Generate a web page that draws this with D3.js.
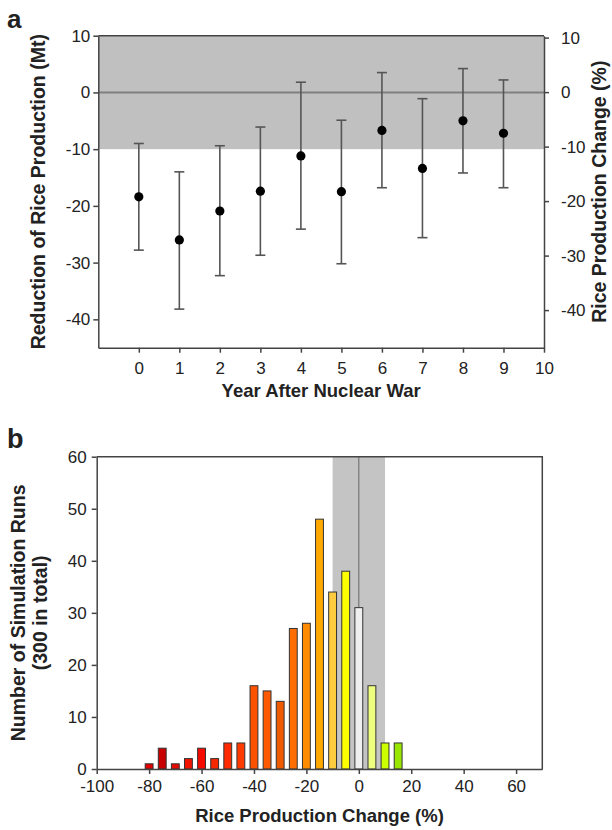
<!DOCTYPE html>
<html>
<head>
<meta charset="utf-8">
<script src="https://cdn.jsdelivr.net/npm/d3@7"></script>
<style>
  body { margin: 0; background: #fff; }
  svg { font-family: "Liberation Sans", Arial, sans-serif; }
  .axis path, .axis line { stroke: #444; stroke-width: 1.5; }
  .axis text { font-size: 17px; fill: #222; }
  .title { font-weight: bold; fill: #222; }
</style>
</head>
<body>
<svg id="chart"></svg>
<script>
// ---- panel a: yearly reduction of rice production ----
const years = [0, 1, 2, 3, 4, 5, 6, 7, 8, 9];
const meanMt = [-18.4, -26.0, -20.9, -17.4, -11.2, -17.5, -6.7, -13.4, -5.0, -7.2];
const upperMt = [-9.0, -14.0, -9.4, -6.1, 1.8, -4.9, 3.5, -1.1, 4.2, 2.2];
const lowerMt = [-27.8, -38.2, -32.3, -28.7, -24.1, -30.2, -16.8, -25.6, -14.2, -16.8];
const yearTicks = [0, 1, 2, 3, 4, 5, 6, 7, 8, 9, 10];
const mtTicks = [10, 0, -10, -20, -30, -40];
const pctTicks = [10, 0, -10, -20, -30, -40];

// ---- panel b: histogram of simulation runs ----
const binCenters = [-80, -75, -70, -65, -60, -55, -50, -45, -40, -35, -30, -25, -20, -15, -10, -5, 0, 5, 10, 15];
const runCounts = [1, 4, 1, 2, 4, 2, 5, 5, 16, 15, 13, 27, 28, 48, 34, 38, 31, 16, 5, 5];
const binColors = ['#e00000', '#c80000', '#e80a00', '#f01400', '#f50a00', '#f52800', '#ff2a00', '#ff3a00',
                   '#ff5200', '#ff5a00', '#f05a00', '#ff6e00', '#ff8c00', '#ffa800', '#ffcc40', '#ffff00',
                   '#f0f0f0', '#eeff80', '#ccff00', '#99e600'];
const changeTicks = [-100, -80, -60, -40, -20, 0, 20, 40, 60];
const countTicks = [0, 10, 20, 30, 40, 50, 60];

const svg = d3.select('#chart')
    .attr('width', 612)
    .attr('height', 830);

const fmt = d => String(d);

// ================= panel a =================
const a = {left: 98.3, right: 544, top: 35.7, bottom: 347.7};

const xA = d3.scaleLinear().domain([-1, 10]).range([a.left, a.right]);
const yA = d3.scaleLinear().domain([-45, 10]).range([a.bottom, a.top]);
// percent axis on the right has its own scale
const yA2 = d3.scaleLinear().domain([-46.9, 10.35]).range([a.bottom, a.top]);

const gA = svg.append('g');

// shaded +-10 band
gA.append('rect')
    .attr('x', xA(-1))
    .attr('y', yA(10))
    .attr('width', xA(10) - xA(-1))
    .attr('height', yA(-10) - yA(10))
    .attr('fill', '#c0c0c0');

// zero line
gA.append('line')
    .attr('x1', xA(-1)).attr('x2', xA(10))
    .attr('y1', yA(0)).attr('y2', yA(0))
    .attr('stroke', '#808080')
    .attr('stroke-width', 2);

const pts = years.map((yr, i) => ({yr, mean: meanMt[i], hi: upperMt[i], lo: lowerMt[i]}));

const bars = gA.selectAll('.err')
    .data(pts)
  .join('g')
    .attr('class', 'err')
    .attr('stroke', '#555')
    .attr('stroke-width', 1.6);

bars.append('line')
    .attr('x1', d => xA(d.yr)).attr('x2', d => xA(d.yr))
    .attr('y1', d => yA(d.hi)).attr('y2', d => yA(d.lo));
bars.append('line')
    .attr('x1', d => xA(d.yr) - 5).attr('x2', d => xA(d.yr) + 5)
    .attr('y1', d => yA(d.hi)).attr('y2', d => yA(d.hi));
bars.append('line')
    .attr('x1', d => xA(d.yr) - 5).attr('x2', d => xA(d.yr) + 5)
    .attr('y1', d => yA(d.lo)).attr('y2', d => yA(d.lo));

gA.selectAll('.dot')
    .data(pts)
  .join('circle')
    .attr('class', 'dot')
    .attr('cx', d => xA(d.yr))
    .attr('cy', d => yA(d.mean))
    .attr('r', 4.6)
    .attr('fill', '#000');

// frame top
gA.append('line')
    .attr('x1', a.left).attr('x2', a.right)
    .attr('y1', a.top).attr('y2', a.top)
    .attr('stroke', '#444').attr('stroke-width', 1.5);

gA.append('g')
    .attr('class', 'axis')
    .attr('transform', `translate(${a.left},0)`)
    .call(d3.axisLeft(yA).tickValues(mtTicks).tickSize(5).tickSizeOuter(0).tickPadding(3).tickFormat(fmt));

gA.append('g')
    .attr('class', 'axis')
    .attr('transform', `translate(${a.right},0)`)
    .call(d3.axisRight(yA2).tickValues(pctTicks).tickSize(5).tickSizeOuter(0).tickPadding(12).tickFormat(fmt));

gA.append('g')
    .attr('class', 'axis')
    .attr('transform', `translate(0,${a.bottom})`)
    .call(d3.axisBottom(xA).tickValues(yearTicks).tickSize(5).tickSizeOuter(0).tickPadding(9).tickFormat(fmt));

gA.append('text')
    .attr('class', 'title')
    .attr('x', 7).attr('y', 28)
    .attr('font-size', 26)
    .text('a');

gA.append('text')
    .attr('class', 'title')
    .attr('x', (a.left + a.right) / 2).attr('y', 397)
    .attr('text-anchor', 'middle')
    .attr('font-size', 18.5)
    .text('Year After Nuclear War');

gA.append('text')
    .attr('class', 'title')
    .attr('transform', `translate(45,${(a.top + a.bottom) / 2}) rotate(-90)`)
    .attr('text-anchor', 'middle')
    .attr('font-size', 19.5)
    .text('Reduction of Rice Production (Mt)');

gA.append('text')
    .attr('class', 'title')
    .attr('transform', `translate(606,${(a.top + a.bottom) / 2}) rotate(-90)`)
    .attr('text-anchor', 'middle')
    .attr('font-size', 19.5)
    .text('Rice Production Change (%)');

// ================= panel b =================
const b = {left: 96.7, right: 542.3, top: 456.7, bottom: 769};

const xB = d3.scaleLinear().domain([-100, 70]).range([b.left, b.right]);
const yB = d3.scaleLinear().domain([0, 60]).range([b.bottom, b.top]);
const colorB = d3.scaleOrdinal().domain(binCenters).range(binColors);

const gB = svg.append('g');

gB.append('rect')
    .attr('x', xB(-10))
    .attr('y', b.top)
    .attr('width', xB(10) - xB(-10))
    .attr('height', b.bottom - b.top)
    .attr('fill', '#c4c4c4');

gB.append('line')
    .attr('x1', xB(0)).attr('x2', xB(0))
    .attr('y1', b.top).attr('y2', b.bottom)
    .attr('stroke', '#666')
    .attr('stroke-width', 1);

const hist = binCenters.map((c, i) => ({c, n: runCounts[i]}));

gB.selectAll('.bar')
    .data(hist)
  .join('rect')
    .attr('class', 'bar')
    .attr('x', d => xB(d.c - 1.5))
    .attr('width', d => xB(d.c + 1.5) - xB(d.c - 1.5))
    .attr('y', d => yB(d.n))
    .attr('height', d => yB(0) - yB(d.n))
    .attr('fill', d => colorB(d.c))
    .attr('stroke', '#333')
    .attr('stroke-width', 1);

// frame top and right
gB.append('path')
    .attr('d', `M${b.left},${b.top}H${b.right}V${b.bottom}`)
    .attr('fill', 'none')
    .attr('stroke', '#444').attr('stroke-width', 1.5);

gB.append('g')
    .attr('class', 'axis')
    .attr('transform', `translate(${b.left},0)`)
    .call(d3.axisLeft(yB).tickValues(countTicks).tickSize(5).tickSizeOuter(0).tickPadding(5).tickFormat(fmt));

gB.append('g')
    .attr('class', 'axis')
    .attr('transform', `translate(0,${b.bottom})`)
    .call(d3.axisBottom(xB).tickValues(changeTicks).tickSize(5).tickSizeOuter(0).tickPadding(6).tickFormat(fmt));

gB.append('text')
    .attr('class', 'title')
    .attr('x', 7).attr('y', 448)
    .attr('font-size', 27)
    .text('b');

gB.append('text')
    .attr('class', 'title')
    .attr('x', (b.left + b.right) / 2).attr('y', 822)
    .attr('text-anchor', 'middle')
    .attr('font-size', 18.5)
    .text('Rice Production Change (%)');

const yTitleB = gB.append('text')
    .attr('class', 'title')
    .attr('transform', `translate(25,${(b.top + b.bottom) / 2}) rotate(-90)`)
    .attr('text-anchor', 'middle')
    .attr('font-size', 19.5);
yTitleB.append('tspan').attr('x', 0).attr('dy', 0).text('Number of Simulation Runs');
yTitleB.append('tspan').attr('x', 0).attr('dy', 22).text('(300 in total)');
</script>
</body>
</html>
